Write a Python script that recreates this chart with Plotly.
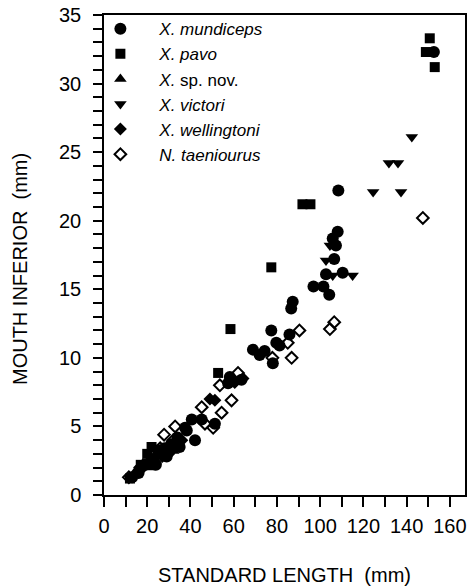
import plotly.graph_objects as go

# ---- data (standard length mm, mouth inferior mm) ----
mund_x = [108.4, 108.1, 105.8, 107.3, 106.5, 102.7, 110.4, 96.9, 101.5, 104.2,
          87.3, 86.6, 77.4, 85.8, 79.7, 81.2, 68.9, 74.3, 72.0, 78.1, 152.6,
          63.6, 58.2, 57.4, 40.6, 45.2, 51.3, 38.3, 42.1, 37.5,
          13.0, 16.0, 19.0, 22.0, 25.0, 28.0, 31.0, 34.0, 35.0, 24.0, 29.0]
mund_y = [22.2, 19.2, 18.7, 18.2, 17.2, 16.1, 16.2, 15.2, 15.2, 14.6,
          14.1, 13.6, 12.0, 11.7, 11.1, 10.9, 10.6, 10.5, 10.2, 9.6, 32.3,
          8.4, 8.6, 8.15, 5.5, 5.5, 5.2, 4.7, 4.0, 4.9,
          1.3, 1.6, 2.2, 2.6, 3.0, 3.4, 3.7, 4.2, 3.5, 2.2, 2.8]

pavo_x = [150.7, 148.9, 153.0, 91.8, 95.5, 77.4, 58.5, 52.8, 12.0, 17.0, 20.0, 22.0, 26.0]
pavo_y = [33.3, 32.3, 31.2, 21.2, 21.2, 16.6, 12.1, 8.9, 1.2, 2.2, 3.0, 3.5, 3.3]

spnov_x = [15.0, 18.0, 21.0, 24.0, 28.0, 32.0]
spnov_y = [1.8, 2.3, 2.0, 2.5, 2.9, 3.2]

vict_x = [142.4, 131.8, 136.0, 124.5, 137.4, 104.5, 102.7, 105.8, 115.0]
vict_y = [26.1, 24.2, 24.2, 22.1, 22.1, 18.2, 17.1, 16.0, 16.0]

well_x = [64.3, 49.0, 51.3, 60.5, 18.0, 23.0, 27.0, 30.0, 33.0, 36.0]
well_y = [8.5, 7.0, 6.9, 8.2, 2.0, 2.4, 2.8, 3.0, 3.6, 4.0]

taen_x = [147.5, 106.5, 104.5, 90.4, 85.0, 86.8, 77.9, 62.0, 53.6, 59.0, 45.2,
          54.4, 46.7, 50.5, 32.9, 32.1, 27.8, 26.0, 16.8, 11.5]
taen_y = [20.2, 12.6, 12.1, 12.0, 11.1, 10.0, 10.0, 8.9, 8.0, 6.9, 6.4,
          6.0, 5.2, 4.9, 5.0, 4.0, 4.4, 3.4, 2.0, 1.3]

sp = "\u00a0\u00a0\u00a0\u00a0"
series = [
    (sp + "<i>X. mundiceps</i>", mund_x, mund_y, "circle", 12, "black"),
    (sp + "<i>X. pavo</i>", pavo_x, pavo_y, "square", 10, "black"),
    (sp + "<i>X.</i> sp. nov.", spnov_x, spnov_y, "triangle-up", 11, "black"),
    (sp + "<i>X. victori</i>", vict_x, vict_y, "triangle-down", 11, "black"),
    (sp + "<i>X. wellingtoni</i>", well_x, well_y, "diamond", 10, "black"),
]

fig = go.Figure()
for name, xs, ys, sym, size, col in series:
    fig.add_trace(go.Scatter(x=xs, y=ys, mode="markers", name=name,
                             marker=dict(symbol=sym, size=size, color=col,
                                         line=dict(width=0))))
fig.add_trace(go.Scatter(x=taen_x, y=taen_y, mode="markers",
                         name=sp + "<i>N. taeniourus</i>",
                         marker=dict(symbol="diamond-open", size=9, color="black",
                                     line=dict(width=2, color="black"))))

font = "Liberation Sans, Arial, Helvetica, sans-serif"
fig.update_layout(
    width=471, height=588,
    margin=dict(l=104, r=4, t=15, b=93),
    paper_bgcolor="white", plot_bgcolor="white",
    font=dict(family=font, color="black", size=20),
    legend=dict(x=-0.01, y=1.008, xanchor="left", yanchor="top",
                font=dict(size=17), bgcolor="rgba(0,0,0,0)", itemwidth=30),
    showlegend=True,
    annotations=[dict(text="MOUTH INFERIOR  (mm)", textangle=-90,
                      xref="paper", yref="paper", x=-0.231, y=0.47,
                      xanchor="center", yanchor="middle", showarrow=False,
                      font=dict(size=20))],
)
fig.update_xaxes(range=[0, 167], showline=True, linecolor="black", linewidth=1.5,
                 mirror=True, ticks="outside", ticklen=10, tickwidth=1.5,
                 tickcolor="black", dtick=20, tick0=0, showgrid=False, zeroline=False,
                 minor=dict(dtick=10, ticks="outside", ticklen=10, tickwidth=1.5,
                            tickcolor="black", showgrid=False),
                 tickfont=dict(size=20), ticklabelstandoff=2,
                 title=dict(text="STANDARD LENGTH  (mm)", font=dict(size=20), standoff=32))
fig.update_yaxes(range=[0, 35], showline=True, linecolor="black", linewidth=1.5,
                 mirror=True, ticks="outside", ticklen=9, tickwidth=1.5,
                 tickcolor="black", dtick=5, tick0=0, showgrid=False, zeroline=False,
                 minor=dict(dtick=1, ticks="outside", ticklen=9, tickwidth=1.5,
                            tickcolor="black", showgrid=False),
                 tickfont=dict(size=20), ticklabelstandoff=8)

fig.write_html("out.html")
